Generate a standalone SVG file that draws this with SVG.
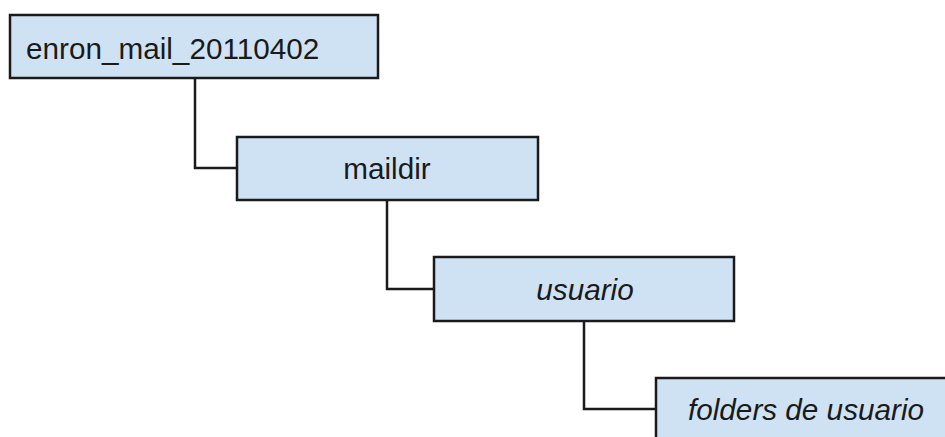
<svg xmlns="http://www.w3.org/2000/svg" width="945" height="437" viewBox="0 0 945 437">
<style>
.box{fill:#cfe2f3;stroke:#1a1a1a;stroke-width:2.5}
.t{font-family:"Liberation Sans",Arial,sans-serif;font-size:29.7px;fill:#1a1a1a}
.i{font-style:italic}
.c{fill:none;stroke:#1a1a1a;stroke-width:2.5}
</style>
<rect width="945" height="437" fill="#ffffff"/>
<g id="connectors">
<path class="c" d="M195 78 V168 H237"/>
<path class="c" d="M387 200 V289 H434"/>
<path class="c" d="M584 321 V409 H656"/>
</g>
<g id="node-enron">
<rect class="box" x="10" y="15" width="368" height="63"/>
<text class="t" x="26" y="59">enron_mail_20110402</text>
</g>
<g id="node-maildir">
<rect class="box" x="237" y="137" width="301" height="63"/>
<text class="t" x="387" y="179" text-anchor="middle">maildir</text>
</g>
<g id="node-usuario">
<rect class="box" x="434" y="257" width="300" height="64"/>
<text class="t i" x="585" y="300" text-anchor="middle">usuario</text>
</g>
<g id="node-folders">
<rect class="box" x="656" y="378" width="310" height="70"/>
<text class="t i" x="806" y="420" text-anchor="middle">folders de usuario</text>
</g>
</svg>
